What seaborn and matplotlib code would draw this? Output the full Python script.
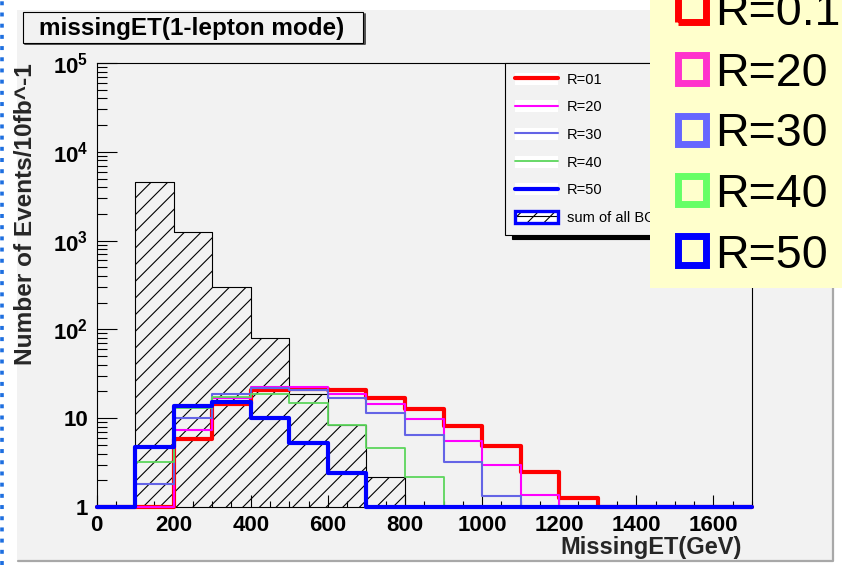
import numpy as np
import matplotlib
matplotlib.use("Agg")
import matplotlib.pyplot as plt
from matplotlib.patches import Rectangle
from matplotlib.lines import Line2D
from matplotlib.legend_handler import HandlerTuple
from matplotlib.ticker import MultipleLocator, LogLocator, FuncFormatter, NullFormatter
import seaborn as sns

# Missing transverse energy binning (GeV)
BIN_WIDTH = 100
X_MIN, X_MAX = 0, 1700
bin_centers = np.arange(X_MIN, X_MAX, BIN_WIDTH) + BIN_WIDTH / 2

# Events per 10 fb^-1 in each bin
sum_bg = [0, 4600, 1240, 298, 79, 18.6, 8.4, 2.2, 0, 0, 0, 0, 0, 0, 0, 0, 0]
r01 = [0, 0, 5.9, 14.5, 20.8, 21.3, 20.8, 17.0, 12.6, 8.2, 4.9, 2.5, 1.25, 0, 0, 0, 0]
r20 = [0, 0, 7.4, 17.0, 22.6, 22.2, 18.6, 14.3, 9.7, 5.6, 3.0, 1.38, 0, 0, 0, 0, 0]
r30 = [0, 1.8, 10.1, 18.7, 21.7, 21.0, 16.8, 11.4, 6.4, 3.2, 1.33, 0, 0, 0, 0, 0, 0]
r40 = [0, 3.2, 12.9, 17.5, 18.6, 14.7, 8.4, 4.6, 2.2, 0, 0, 0, 0, 0, 0, 0, 0]
r50 = [0, 4.8, 13.8, 15.1, 10.0, 5.2, 2.4, 0, 0, 0, 0, 0, 0, 0, 0, 0, 0]

signals = [r01, r20, r30, r40, r50]
signal_labels = ["R=01", "R=20", "R=30", "R=40", "R=50"]
signal_colors = ["#ff0000", "#ff00ff", "#6464e6", "#5cd65c", "#0000ff"]
signal_widths = [3.0, 1.5, 1.5, 1.3, 3.0]
bg_label = "sum of all BG"

note_labels = ["R=0.1", "R=20", "R=30", "R=40", "R=50"]
note_colors = ["#ff0000", "#ff33cc", "#6666ff", "#66ff66", "#0000ff"]

title = "missingET(1-lepton mode)"
x_title = "MissingET(GeV)"
y_title = "Number of Events/10fb^-1"

Y_MIN, Y_MAX = 1.0, 1e5

sns.set_theme(style="ticks")
plt.rcParams.update({
    "font.family": ["Liberation Sans", "DejaVu Sans"],
    "font.weight": "bold",
    "mathtext.fontset": "custom",
    "mathtext.rm": "Liberation Sans:bold",
    "mathtext.it": "Liberation Sans:bold",
    "mathtext.bf": "Liberation Sans:bold",
    "mathtext.default": "rm",
    "hatch.linewidth": 0.8,
    "axes.edgecolor": "black",
    "xtick.color": "black",
    "ytick.color": "black",
    "text.color": "black",
})

W, H = 842, 565
CANVAS = "#f2f2f2"


def fx(x):
    return x / W


def fy(y):
    return 1 - y / H


fig = plt.figure(figsize=(W / 100, H / 100), dpi=100)
fig.patch.set_facecolor("white")

# canvas pad with a bevelled edge
fig.add_artist(Rectangle((fx(17), fy(560)), (832 - 17) / W, (560 - 10) / H,
                         transform=fig.transFigure, facecolor=CANVAS,
                         edgecolor="none", zorder=-10))
fig.add_artist(Line2D([fx(18), fx(832.5), fx(832.5)], [fy(560.5), fy(560.5), fy(11)],
                      transform=fig.transFigure, color="#a8a8a8", lw=1.6, zorder=-9))

# dotted margin line on the left
fig.add_artist(Line2D([fx(1.8), fx(1.8)], [0, 1], transform=fig.transFigure,
                      color="#1e6fe0", lw=2.6, linestyle=(0, (1.1, 2.0)),
                      dash_capstyle="butt", zorder=-8))

ax = fig.add_axes([fx(96.5), fy(507), (752 - 96.5) / W, (507 - 63) / H])
ax.set_facecolor(CANVAS)

hist_bins = dict(binwidth=BIN_WIDTH, binrange=(X_MIN, X_MAX))

# summed background: hatched histogram
sns.histplot(x=bin_centers, weights=sum_bg, **hist_bins, element="step",
             fill=True, color="black", facecolor="none", edgecolor="black",
             linewidth=0.8, hatch="//", ax=ax, zorder=2)

# signal points: empty bins sit on the axis floor
for vals, color, lw in zip(signals, signal_colors, signal_widths):
    sns.histplot(x=bin_centers, weights=np.clip(vals, Y_MIN, None), **hist_bins,
                 element="step", fill=False, color=color, linewidth=lw,
                 ax=ax, clip_on=False, zorder=3)

ax.set_yscale("log")
ax.set_xlim(X_MIN, X_MAX)
ax.set_ylim(Y_MIN, Y_MAX)

for sp in ax.spines.values():
    sp.set_linewidth(0.8)
    sp.set_color("black")

ax.xaxis.set_major_locator(MultipleLocator(200))
ax.xaxis.set_minor_locator(MultipleLocator(50))
ax.yaxis.set_major_locator(LogLocator(base=10, numticks=10))
ax.yaxis.set_minor_locator(LogLocator(base=10, subs=np.arange(2, 10), numticks=20))
ax.yaxis.set_minor_formatter(NullFormatter())


def decade_label(v, _):
    if v <= 0:
        return ""
    n = int(round(np.log10(v)))
    if n == 0:
        return "1"
    if n == 1:
        return "10"
    return rf"$10^{{{n}}}$"


ax.yaxis.set_major_formatter(FuncFormatter(decade_label))

ax.tick_params(axis="both", which="both", direction="in", top=False, right=False,
               width=0.8, colors="black")
ax.tick_params(axis="x", which="major", length=8.6, pad=6, labelsize=16)
ax.tick_params(axis="x", which="minor", length=4.3)
ax.tick_params(axis="y", which="major", length=14.4, pad=6, labelsize=16)
ax.tick_params(axis="y", which="minor", length=7.2)

ax.set_xlabel(x_title, loc="right", fontsize=17, fontweight="bold")
ax.xaxis.set_label_coords((742 - 96.5) / 655.5, (507 - 536) / 444)
ax.set_ylabel(y_title, loc="top", fontsize=17.6, fontweight="bold")
ax.yaxis.set_label_coords((37 - 96.5) / 655.5, 1.0)

# legend: each key sits on a white swatch
handles = []
for color, lw in zip(signal_colors, signal_widths):
    handles.append((Rectangle((0, 0), 1, 1, facecolor="white", edgecolor="none"),
                    Line2D([], [], color=color, lw=lw)))
handles.append((Rectangle((0, 0), 1, 1, facecolor="white", edgecolor="none"),
                Rectangle((0, 0), 1, 1, facecolor="none", edgecolor="black", lw=0, hatch="//"),
                Line2D([], [], color="black", lw=0.8),
                Rectangle((0, 0), 1, 1, facecolor="none", edgecolor="#0000ff", lw=2.4)))
labels = signal_labels + [bg_label]

leg = ax.legend(handles, labels, handler_map={tuple: HandlerTuple(ndivide=1, pad=0)},
                loc="upper left", bbox_to_anchor=(fx(505), fy(63)),
                bbox_transform=fig.transFigure, borderaxespad=0,
                prop=dict(family="Liberation Sans", weight="normal", size=10.5),
                handlelength=2.95, handleheight=0.9, handletextpad=0.62,
                labelspacing=0.93, borderpad=0.66, frameon=True, fancybox=False,
                edgecolor="black", facecolor=CANVAS, framealpha=1,
                shadow={"ox": 5, "oy": -3, "color": "black", "alpha": 1})
leg.get_frame().set_linewidth(0.8)

# title box
fig.add_artist(Line2D([fx(24.5), fx(364.5), fx(364.5)], [fy(44.3), fy(44.3), fy(13.5)],
                      transform=fig.transFigure, color="#505050", lw=1.4, zorder=4))
fig.add_artist(Rectangle((fx(23), fy(43)), (363 - 23) / W, (43 - 12) / H,
                         transform=fig.transFigure, facecolor=CANVAS,
                         edgecolor="black", lw=0.8, zorder=5))
fig.text(fx(192), fy(28), title, fontsize=17.5, fontweight="bold",
         ha="center", va="center", zorder=6)

# key note panel with coloured boxes
fig.add_artist(Rectangle((fx(650), fy(288)), (W - 650) / W, 288 / H + 0.01,
                         transform=fig.transFigure, facecolor="#ffffcc",
                         edgecolor="none", zorder=10))
row_y = [8, 69, 129.5, 190, 250.5]
for cy, lab, col in zip(row_y, note_labels, note_colors):
    fig.add_artist(Rectangle((fx(691.5 - 14), fy(cy + 14)), 28 / W, 28 / H,
                             transform=fig.transFigure, facecolor="none",
                             edgecolor=col, lw=5.0, joinstyle="miter", zorder=11))
    fig.text(fx(715), fy(cy + 17), lab, fontsize=33.5, fontweight="normal",
             family="Liberation Sans", ha="left", va="baseline", zorder=12)

fig.savefig("out.png", dpi=100)
